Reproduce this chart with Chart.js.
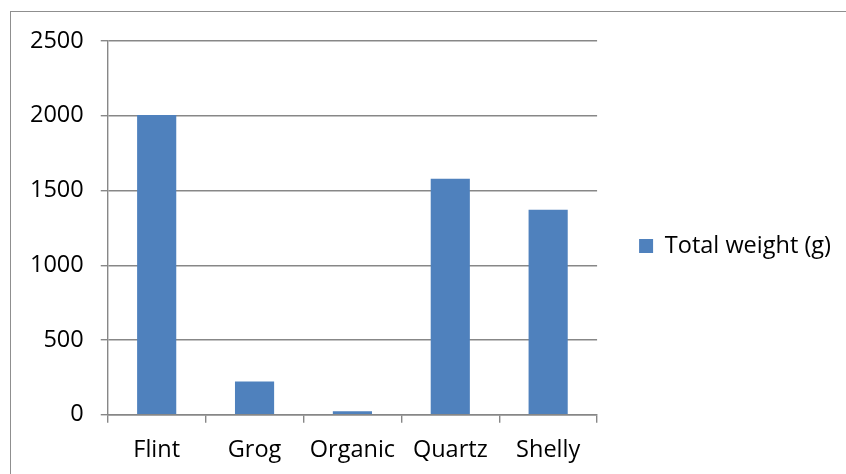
<!DOCTYPE html>
<html>
<head>
<meta charset="utf-8">
<script src="https://cdn.jsdelivr.net/npm/chart.js@4/dist/chart.umd.min.js"></script>
<style>
  html, body { margin: 0; padding: 0; background: #fff; overflow: hidden; }
  #wrap { position: relative; width: 846px; height: 474px; overflow: hidden; }
  #frame { position: absolute; left: 10px; top: 11px; width: 900px; height: 500px;
           border-top: 1.5px solid #8f8f8f; border-left: 1.5px solid #8f8f8f; }
  canvas { position: absolute; left: 0; top: 0; }
</style>
</head>
<body>
<div id="wrap">
  <div id="frame"></div>
  <canvas id="c" width="846" height="477"></canvas>
</div>
<script>
// Temper types and their total weight in grams
const categories = ['Flint', 'Grog', 'Organic', 'Quartz', 'Shelly'];
const totalWeight = [2005, 223, 24, 1578, 1372];
const seriesName = 'Total weight (g)';
const yTicks = [0, 500, 1000, 1500, 2000, 2500];

const FONT = { family: '"Open Sans", sans-serif', size: 23.5 };
const AXIS_GREY = '#878787';
const LINE_W = 1.4;

Chart.defaults.color = '#000';
Chart.defaults.font = FONT;

// Lift the legend so it sits centred on the framed area rather than the canvas
const legendLift = {
  id: 'legendLift',
  afterLayout(chart) {
    const lg = chart.legend;
    if (lg) { lg.top -= 13; lg.bottom -= 13; }
  }
};

new Chart(document.getElementById('c'), {
  type: 'bar',
  data: {
    labels: categories,
    datasets: [{
      label: seriesName,
      data: totalWeight,
      backgroundColor: '#4F81BD',
      borderWidth: 0,
      barPercentage: 0.5,
      categoryPercentage: 0.8
    }]
  },
  options: {
    responsive: false,
    animation: false,
    layout: { padding: { left: 13, top: 41, right: 5, bottom: 0 } },
    plugins: {
      tooltip: { enabled: false },
      legend: {
        position: 'right',
        maxWidth: 400,
        labels: {
          boxWidth: 14,
          boxHeight: 14,
          padding: 42,
          font: FONT,
          color: '#000'
        }
      }
    },
    scales: {
      x: {
        offset: true,
        grid: {
          offset: true,
          drawOnChartArea: false,
          drawTicks: true,
          tickLength: 8,
          color: AXIS_GREY,
          lineWidth: LINE_W
        },
        border: { display: true, color: AXIS_GREY, width: LINE_W },
        ticks: { padding: 13, font: FONT, color: '#000', maxRotation: 0 }
      },
      y: {
        min: yTicks[0],
        max: yTicks[yTicks.length - 1],
        afterBuildTicks: (axis) => { axis.ticks = yTicks.map(v => ({ value: v })); },
        grid: {
          color: AXIS_GREY,
          lineWidth: LINE_W,
          tickLength: 7,
          drawTicks: true
        },
        border: { display: true, color: AXIS_GREY, width: LINE_W },
        ticks: { padding: 17, font: FONT, color: '#000', callback: (v) => String(v) }
      }
    }
  },
  plugins: [legendLift]
});
</script>
</body>
</html>
